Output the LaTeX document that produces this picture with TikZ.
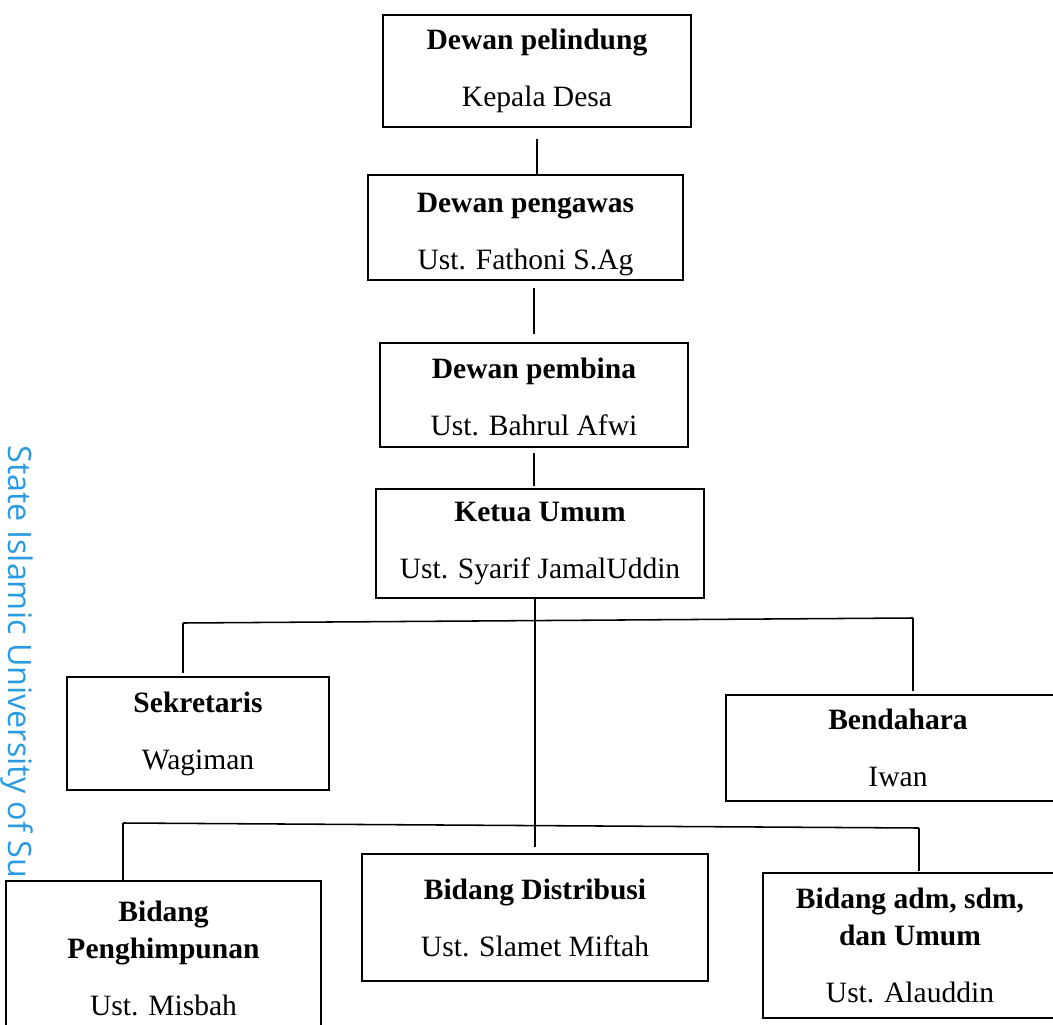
\documentclass[tikz,border=0pt]{standalone}
\usepackage{fontspec}
\setmainfont{Liberation Serif}
\newfontfamily\wmfont{Open Sans}
\usepackage{tikz}
\usetikzlibrary{positioning,calc}
\definecolor{wmblue}{RGB}{40,155,225}
\newlength\pu
\setlength\pu{0.025cm}

\begin{document}
\begin{tikzpicture}[x=\pu, y=-\pu,
    unit/.style={rectangle, draw=black, line width=1.3pt, fill=white, align=center,
                 font=\fontsize{21}{26.3}\selectfont, inner sep=0pt},
    link/.style={draw=black, line width=1.1pt},
    wmark/.style={font=\wmfont\fontsize{23}{23}\selectfont, text=wmblue,
                  rotate=-90, anchor=base west, inner sep=0pt}
]
    \useasboundingbox (0,0) rectangle (1053,1025);
    \clip (0,0) rectangle (1053,1025);

    % watermark
    \node[wmark] (stamp) at (8,445) {State Islamic University of Su};

    % dewan
    \node[unit, minimum width=308\pu, minimum height=112\pu] (pelindung) at (537,71)
        {\textbf{Dewan pelindung}\\[14.2pt] Kepala Desa};
    \node[unit, minimum width=315\pu, minimum height=105\pu, text height=64pt] (pengawas) at (525.5,227.5)
        {\textbf{Dewan pengawas}\\[14.2pt] Ust. Fathoni S.Ag};
    \node[unit, minimum width=308\pu, minimum height=104\pu, text height=58.5pt] (pembina) at (534,395)
        {\textbf{Dewan pembina}\\[14.2pt] Ust. Bahrul Afwi};

    % ketua umum
    \node[unit, minimum width=328\pu, minimum height=109\pu] (ketua) at (540,543.5)
        {\textbf{Ketua Umum}\\[14.2pt] Ust. Syarif JamalUddin};

    % sekretaris, bendahara
    \node[unit, minimum width=262\pu, minimum height=113\pu] (sekretaris) at (198,733.5)
        {\textbf{Sekretaris}\\[14.2pt] Wagiman};
    \node[unit, minimum width=344\pu, minimum height=106\pu] (bendahara) at (898,748)
        {\textbf{Bendahara}\\[14.2pt] Iwan};

    % bidang
    \node[unit, minimum width=315\pu, minimum height=154\pu] (himpun) at (163.5,958)
        {\textbf{Bidang}\\ \textbf{Penghimpunan}\\[14.2pt] Ust. Misbah};
    \node[unit, minimum width=346\pu, minimum height=127\pu] (distribusi) at (535,917.5)
        {\textbf{Bidang Distribusi}\\[14.2pt] Ust. Slamet Miftah};
    \node[unit, minimum width=294\pu, minimum height=145\pu] (adm) at (910,945.5)
        {\textbf{Bidang adm, sdm,}\\ \textbf{dan Umum}\\[14.2pt] Ust. Alauddin};

    % garis dewan
    \draw[link, shorten <=8pt] (pelindung.south) -- (pelindung.south |- pengawas.north);
    \draw[link, shorten <=5pt, shorten >=5.5pt] (pengawas.south -| pembina.north) -- (pembina.north);
    \draw[link, shorten <=3.5pt, shorten >=1.5pt] (pembina.south) -- (pembina.south |- ketua.north);

    % batang tengah
    \draw[link, shorten >=4pt] (ketua.south -| distribusi.north) -- (distribusi.north);

    % cabang atas
    \coordinate (kiri1) at (183,623);
    \coordinate (kanan1) at (913,618);
    \draw[link] (kiri1) -- (kanan1);
    \draw[link, shorten >=2pt] (kiri1) -- (kiri1 |- sekretaris.north);
    \draw[link, shorten >=2pt] (kanan1) -- (kanan1 |- bendahara.north);

    % cabang bawah
    \coordinate (kiri2) at (123,823);
    \coordinate (kanan2) at (919,828);
    \draw[link] (kiri2) -- (kanan2);
    \draw[link] (kiri2) -- (kiri2 |- himpun.north);
    \draw[link, shorten >=1pt] (kanan2) -- (kanan2 |- adm.north);
\end{tikzpicture}
\end{document}
